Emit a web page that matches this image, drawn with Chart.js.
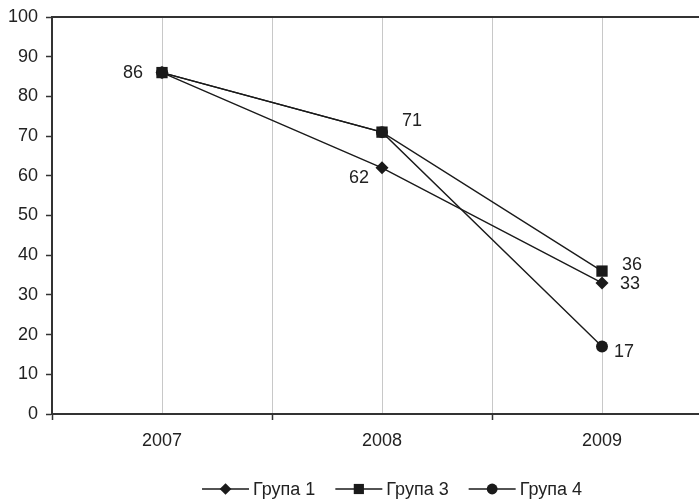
<!DOCTYPE html>
<html>
<head>
<meta charset="utf-8">
<script src="https://cdn.jsdelivr.net/npm/chart.js@4/dist/chart.umd.min.js"></script>
<style>
  html, body { margin: 0; padding: 0; background: #fff; overflow: hidden; }
  #wrap { position: relative; width: 720px; height: 501px; }
</style>
</head>
<body>
<div id="wrap"><canvas id="grafik"></canvas></div>
<script>
// godini i vrednosti po grupi
const godini = ["2007", "2008", "2009"];
const grupa1 = [86, 62, 33];
const grupa3 = [86, 71, 36];
const grupa4 = [86, 71, 17];
const yMin = 0;
const yMax = 100;
const yStep = 10;

const boja = "#1a1a1a";
const fontOsnovni = '"Liberation Sans", Arial, sans-serif';
const fontLegenda = '"Liberation Sans Narrow", "Liberation Sans", Arial, sans-serif';

// koi vrednosti se pishuvaat do tockite i kade (pomestuvanje od tockata)
const oznaki = [
    { ds: 1, i: 0, dx: -29, dy: 0 },
    { ds: 1, i: 1, dx: 30, dy: -11 },
    { ds: 0, i: 1, dx: -23, dy: 10 },
    { ds: 1, i: 2, dx: 30, dy: -6 },
    { ds: 0, i: 2, dx: 28, dy: 1 },
    { ds: 2, i: 2, dx: 22, dy: 6 }
];

function marker(ctx, style, x, y, r) {
    ctx.beginPath();
    if (style === "rectRot") {
        ctx.moveTo(x - r, y);
        ctx.lineTo(x, y - r);
        ctx.lineTo(x + r, y);
        ctx.lineTo(x, y + r);
        ctx.closePath();
    } else if (style === "rect") {
        const s = r * Math.SQRT1_2;
        ctx.rect(x - s, y - s, 2 * s, 2 * s);
    } else {
        ctx.arc(x, y, r, 0, Math.PI * 2);
    }
    ctx.fill();
}

const vrednostiPlugin = {
    id: "vrednosti",
    afterDatasetsDraw(chart) {
        const ctx = chart.ctx;
        ctx.save();
        ctx.font = "18px " + fontOsnovni;
        ctx.fillStyle = "#222";
        ctx.textAlign = "center";
        ctx.textBaseline = "middle";
        oznaki.forEach(o => {
            const pt = chart.getDatasetMeta(o.ds).data[o.i];
            const v = chart.data.datasets[o.ds].data[o.i];
            ctx.fillText(String(v), pt.x + o.dx, pt.y + o.dy);
        });
        ctx.restore();
    }
};

// legenda: linija so marker pa tekst
const legendaPlugin = {
    id: "legenda",
    afterDraw(chart) {
        const ctx = chart.ctx;
        const dolzina = 47, medjuTekst = 4, medjuStavki = 20;
        const y = 489;
        ctx.save();
        ctx.font = "18px " + fontLegenda;
        const stavki = chart.data.datasets.map(ds => ({
            ds: ds,
            w: dolzina + medjuTekst + ctx.measureText(ds.label).width
        }));
        const vkupno = stavki.reduce((s, it) => s + it.w, 0) + medjuStavki * (stavki.length - 1);
        let x = 392 - vkupno / 2;
        stavki.forEach(it => {
            ctx.strokeStyle = boja;
            ctx.lineWidth = 1.3;
            ctx.beginPath();
            ctx.moveTo(x, y);
            ctx.lineTo(x + dolzina, y);
            ctx.stroke();
            ctx.fillStyle = boja;
            marker(ctx, it.ds.pointStyle, x + dolzina / 2, y, it.ds.pointRadius * 0.9);
            ctx.fillStyle = "#222";
            ctx.textAlign = "left";
            ctx.textBaseline = "middle";
            ctx.fillText(it.ds.label, x + dolzina + medjuTekst, y + 1);
            x += it.w + medjuStavki;
        });
        ctx.restore();
    }
};

function serija(label, data, stil, r, red) {
    return {
        label: label,
        data: data,
        borderColor: boja,
        borderWidth: 1.4,
        pointStyle: stil,
        pointRadius: r,
        pointBackgroundColor: boja,
        pointBorderColor: boja,
        pointBorderWidth: 0,
        tension: 0,
        fill: false,
        order: red
    };
}

new Chart("grafik", {
    type: "line",
    data: {
        labels: godini,
        datasets: [
            serija("Група 1", grupa1, "rectRot", 6.5, 2),
            serija("Група 3", grupa3, "rect", 8, 0),
            serija("Група 4", grupa4, "circle", 6, 1)
        ]
    },
    options: {
        responsive: true,
        maintainAspectRatio: false,
        animation: false,
        layout: { padding: { top: 15, left: 0, right: 0, bottom: 0 } },
        plugins: {
            legend: { display: false },
            tooltip: { enabled: false }
        },
        scales: {
            x: {
                type: "category",
                position: "bottom",
                offset: true,
                grid: { offset: true, color: "#c8c8c8", lineWidth: 1, tickColor: "#333", tickLength: 6, tickWidth: 1.5 },
                border: { color: "#333", width: 2 },
                ticks: { color: "#222", font: { family: fontOsnovni, size: 18 }, padding: 10, maxRotation: 0 },
                afterFit: s => { s.height = 87; }
            },
            x2: {
                type: "category",
                position: "top",
                labels: godini,
                offset: true,
                grid: { offset: false, color: "#c8c8c8", lineWidth: 1, drawTicks: false },
                border: { color: "#333", width: 2 },
                ticks: { display: false },
                afterFit: s => { s.height = 0; }
            },
            y: {
                min: yMin,
                max: yMax,
                ticks: { stepSize: yStep, color: "#222", font: { family: fontOsnovni, size: 18, lineHeight: 1 }, padding: 8 },
                grid: { drawOnChartArea: false, color: "#333", tickLength: 6, tickWidth: 1.5 },
                border: { color: "#333", width: 2 },
                afterFit: s => { s.width = 52; }
            }
        }
    },
    plugins: [vrednostiPlugin, legendaPlugin]
});
</script>
</body>
</html>
